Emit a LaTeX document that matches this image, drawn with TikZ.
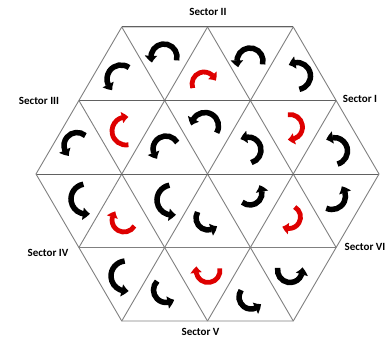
\documentclass[tikz,border=0pt]{standalone}
\usepackage{fontspec}
\setmainfont{Carlito}
\usetikzlibrary{arrows.meta,bending}
\newcommand{\carrow}[6]{\draw[#1] ([shift={(#5:#4)}]#2,{338-#3}) arc[start angle=#5, end angle=#6, radius=#4];}
\tikzset{
  gridline/.style={draw=black!50, line width=0.9pt},
  rowline/.style={draw=black!62, line width=1pt},
  blk/.style={line width=5.5pt, draw=black, -{Triangle[width=12pt,length=7pt,bend]}},
  redarr/.style={line width=4.8pt, draw={rgb,255:red,222;green,0;blue,0}, -{Triangle[width=11pt,length=6.5pt,bend]}},
  lbl/.style={font=\bfseries\fontsize{11}{12}\selectfont, inner sep=0pt}
}
\begin{document}
\begin{tikzpicture}[x=1pt,y=1pt]
\useasboundingbox (0,0) rectangle (387,338);
\fill[white] (0,0) rectangle (387,338);
% lattice points
\coordinate (h1) at (121.75,311); \coordinate (h2) at (293.25,311);
\coordinate (h3) at (379,164);    \coordinate (h4) at (293.25,17);
\coordinate (h5) at (121.75,17);  \coordinate (h6) at (36,164);
\coordinate (t0) at (207.5,311);  \coordinate (b0) at (207.5,17);
\coordinate (l1) at (78.9,237.5); \coordinate (r1) at (336.1,237.5);
\coordinate (l3) at (78.9,90.5);  \coordinate (r3) at (336.1,90.5);
% diagonals
\draw[gridline] (h5) -- (h2);
\draw[gridline] (h1) -- (h4);
\draw[gridline] (l3) -- (t0);
\draw[gridline] (b0) -- (r1);
\draw[gridline] (t0) -- (r3);
\draw[gridline] (l1) -- (b0);
% horizontals
\draw[rowline] (l1) -- (r1);
\draw[rowline] (h6) -- (h3);
\draw[gridline] (l3) -- (r3);
% outline
\draw[gridline] (h1) -- (h2) -- (h3) -- (h4) -- (h5) -- (h6) -- cycle;
\draw[rowline] (h1) -- (h2);
% arrows (pixel centre x, y; radius; start; end)
\carrow{blk}{121}{79}{14}{55}{232}
\carrow{blk}{164}{57}{13}{-15}{205}
\carrow{redarr}{204}{84}{12}{200}{15}
\carrow{blk}{250}{61}{13}{-15}{208}
\carrow{blk}{297}{76}{13.5}{-80}{127}
\carrow{blk}{77}{145.5}{13}{50}{232}
\carrow{redarr}{126}{131}{14}{280}{80}
\carrow{blk}{166}{149}{13}{30}{228}
\carrow{blk}{205}{126}{13.5}{-30}{178}
\carrow{redarr}{290}{127}{12.5}{100}{-100}
\carrow{blk}{248}{150}{13}{-75}{125}
\carrow{blk}{334}{151}{13.5}{-75}{125}
\carrow{blk}{86}{199}{15}{100}{285}
\carrow{redarr}{124}{220}{12}{330}{135}
\carrow{blk}{172}{200}{15}{100}{285}
\carrow{blk}{208}{218}{12}{150}{318}
\carrow{blk}{250}{193}{12}{230}{400}
\carrow{redarr}{289}{217}{11.5}{60}{-125}
\carrow{blk}{332}{196}{13.5}{245}{405}
\carrow{blk}{126}{276}{15}{95}{280}
\carrow{blk}{166}{290}{12.5}{135}{310}
\carrow{redarr}{208}{270.5}{12}{10}{-200}
\carrow{blk}{251}{297}{12}{145}{325}
\carrow{blk}{290}{270}{12.5}{170}{372}
% labels
\node[lbl] (s2) at (208,326) {Sector II};
\node[lbl] (s1) at (360,239.5) {Sector I};
\node[lbl] (s3) at (39,237.5) {Sector III};
\node[lbl] (s4) at (48,85) {Sector IV};
\node[lbl] (s5) at (200.5,6) {Sector V};
\node[lbl] (s6) at (365,91) {Sector VI};
\end{tikzpicture}
\end{document}
